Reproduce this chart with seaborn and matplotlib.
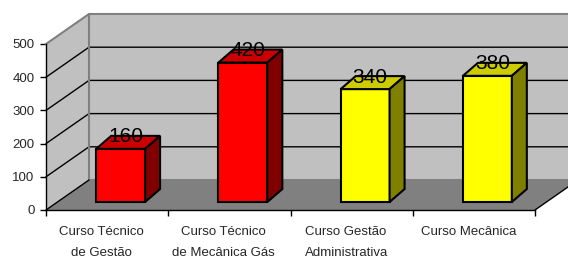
import numpy as np
import matplotlib
matplotlib.use("Agg")
import matplotlib.pyplot as plt
import matplotlib.transforms as mtrans
from matplotlib.patches import Polygon
from matplotlib.colors import to_rgb
import seaborn as sns

# data
categories = ["Curso Técnico\nde Gestão", "Curso Técnico\nde Mecânica Gás",
              "Curso Gestão\nAdministrativa", "Curso Mecânica"]
values = [160, 420, 340, 380]
bar_colors = ["#FF0000", "#FF0000", "#FFFF00", "#FFFF00"]
y_ticks = [0, 100, 200, 300, 400, 500]

sns.set_theme(style="white")
plt.rcParams["font.family"] = ["Liberation Sans", "DejaVu Sans"]

W, H = 568, 257
fig = plt.figure(figsize=(W / 100, H / 100), dpi=100)
fig.patch.set_facecolor("white")

# front plane of the 3d box (pixels, from bottom-left)
left, bottom, right, top = 46, 47, 535, 213
ax = fig.add_axes([left / W, bottom / H, (right - left) / W, (top - bottom) / H])
ax.set_facecolor("none")

n = len(values)
ymax = y_ticks[-1]
px_x = (right - left) / n
px_y = (top - bottom) / ymax

# depth of box and bars, converted to data units
wdx, wdy = 43 / px_x, 30 / px_y
bdx, bdy = 15 / px_x, 13 / px_y
bar_shift = mtrans.ScaledTranslation(13.5 / 100, 8 / 100, fig.dpi_scale_trans)

x0, x1 = -0.5, n - 0.5
wall = "#C0C0C0"
floor = "#808080"
edge = "#808080"

# walls and floor
ax.add_patch(Polygon([(x0, 0), (x0, ymax), (x0 + wdx, ymax + wdy), (x0 + wdx, wdy)],
                     closed=True, facecolor=wall, edgecolor="none", clip_on=False, zorder=0))
ax.add_patch(Polygon([(x0 + wdx, wdy), (x0 + wdx, ymax + wdy), (x1 + wdx + 1, ymax + wdy), (x1 + wdx + 1, wdy)],
                     closed=True, facecolor=wall, edgecolor="none", clip_on=False, zorder=0))
ax.add_patch(Polygon([(x0, 0), (x1, 0), (x1 + wdx, wdy), (x0 + wdx, wdy)],
                     closed=True, facecolor=floor, edgecolor="none", clip_on=False, zorder=0))

# gridlines on the walls
for t in y_ticks[1:-1]:
    ax.plot([x0, x0 + wdx, x1 + wdx + 1], [t, t + wdy, t + wdy],
            color="black", lw=1, clip_on=False, zorder=0.5)
# wall edges
ax.plot([x0, x0 + wdx, x1 + wdx + 1], [ymax, ymax + wdy, ymax + wdy],
        color=edge, lw=1.5, clip_on=False, zorder=0.6)
ax.plot([x0 + wdx, x0 + wdx, x1 + wdx + 1], [ymax + wdy, wdy, wdy],
        color=edge, lw=1.5, clip_on=False, zorder=0.6)
ax.plot([x0, x0 + wdx], [0, wdy], color="black", lw=1, clip_on=False, zorder=0.6)
ax.plot([x1, x1 + wdx], [0, wdy], color="black", lw=1, clip_on=False, zorder=0.6)

# bars (front faces)
n_before = len(ax.patches)
sns.barplot(x=categories, y=values, hue=categories, palette=bar_colors, legend=False,
            width=0.4, saturation=1, edgecolor="black", linewidth=1.5, ax=ax)
bars = list(ax.patches)[n_before:]

tr = ax.transData + bar_shift
for p, col in zip(bars, bar_colors):
    p.set_transform(tr)
    p.set_clip_on(False)
    p.set_zorder(2)
    a, b = p.get_x(), p.get_x() + p.get_width()
    h = p.get_height()
    rgb = np.array(to_rgb(col))
    ax.add_patch(Polygon([(a, h), (b, h), (b + bdx, h + bdy), (a + bdx, h + bdy)], closed=True,
                         facecolor=rgb * 0.8, edgecolor="black", lw=1.5,
                         transform=tr, clip_on=False, zorder=2))
    ax.add_patch(Polygon([(b, 0), (b, h), (b + bdx, h + bdy), (b + bdx, bdy)], closed=True,
                         facecolor=rgb * 0.5, edgecolor="black", lw=1.5,
                         transform=tr, clip_on=False, zorder=2))
    lab_tr = tr + mtrans.ScaledTranslation(5 / 100, 6.5 / 100, fig.dpi_scale_trans)
    ax.text(a + p.get_width() / 2, h, f"{h:.0f}", transform=lab_tr,
            ha="center", va="baseline", fontsize=15, color="black", zorder=5)

# axes
ax.set_xlim(x0, x1)
ax.set_ylim(0, ymax)
ax.set_yticks(y_ticks)
ax.set_xticks(np.arange(n + 1) - 0.5, labels=[""] * (n + 1))
ax.set_xticks(np.arange(n) - 0.045, labels=categories, minor=True)
ax.tick_params(axis="x", which="major", bottom=True, length=4.3, width=1, color="black")
ax.tick_params(axis="x", which="minor", bottom=True, length=0, pad=11.5, labelsize=9.5)
ax.tick_params(axis="y", left=True, length=4.3, width=1, color="black", pad=4, labelsize=9.5)
for lbl in ax.get_xticklabels(minor=True):
    lbl.set_linespacing(2.05)
ax.set_xlabel("")
ax.set_ylabel("")
ax.grid(False)
for s in ["top", "right"]:
    ax.spines[s].set_visible(False)
for s in ["left", "bottom"]:
    ax.spines[s].set_color("black")
    ax.spines[s].set_linewidth(1)

fig.savefig("out.png", dpi=100)
